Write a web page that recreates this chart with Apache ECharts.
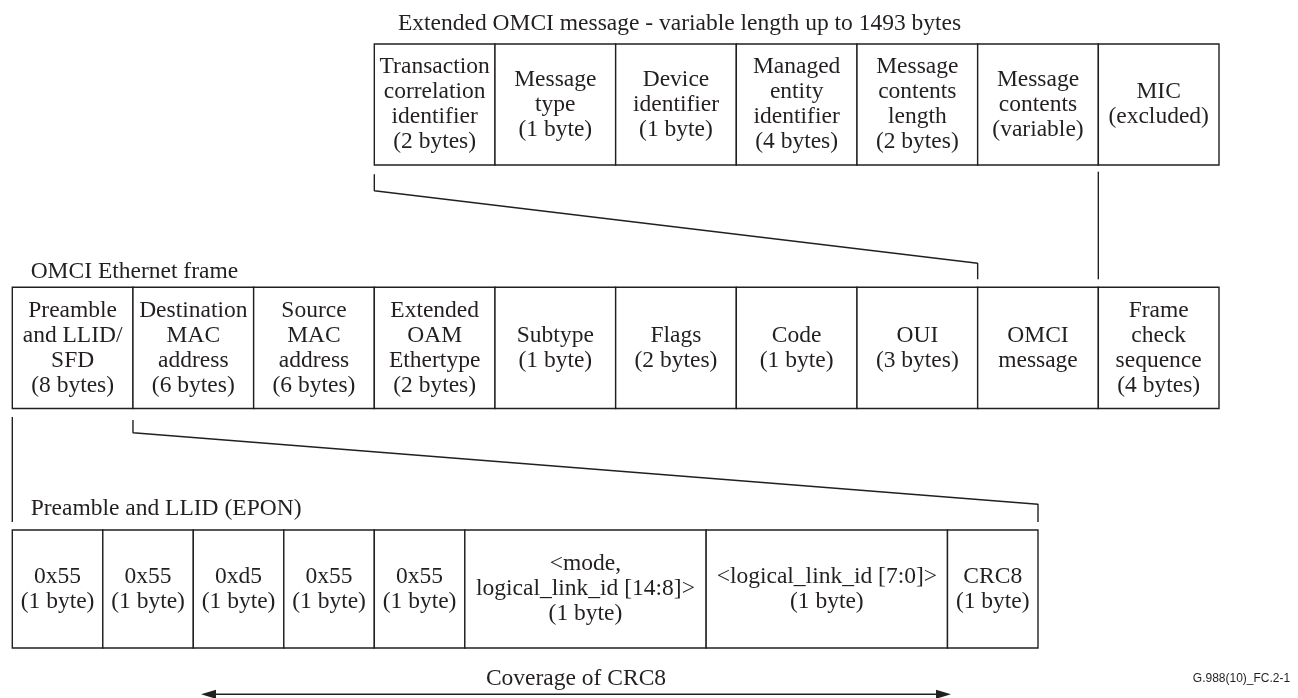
<!DOCTYPE html>
<html>
<head>
<meta charset="utf-8">
<title>Extended OMCI message in an OMCI Ethernet frame</title>
<script src="https://cdn.jsdelivr.net/npm/echarts@6/dist/echarts.min.js"></script>
<style>
  html, body { margin: 0; padding: 0; background: #fff; }
  #chart { width: 1298px; height: 698px; }
</style>
</head>
<body>
<div id="chart"></div>
<script>
// field labels, one array per row of the figure
var omciFields = [
  'Transaction\ncorrelation\nidentifier\n(2 bytes)',
  'Message\ntype\n(1 byte)',
  'Device\nidentifier\n(1 byte)',
  'Managed\nentity\nidentifier\n(4 bytes)',
  'Message\ncontents\nlength\n(2 bytes)',
  'Message\ncontents\n(variable)',
  'MIC\n(excluded)'
];
var frameFields = [
  'Preamble\nand LLID/\nSFD\n(8 bytes)',
  'Destination\nMAC\naddress\n(6 bytes)',
  'Source\nMAC\naddress\n(6 bytes)',
  'Extended\nOAM\nEthertype\n(2 bytes)',
  'Subtype\n(1 byte)',
  'Flags\n(2 bytes)',
  'Code\n(1 byte)',
  'OUI\n(3 bytes)',
  'OMCI\nmessage',
  'Frame\ncheck\nsequence\n(4 bytes)'
];
var eponFields = [
  '0x55\n(1 byte)',
  '0x55\n(1 byte)',
  '0xd5\n(1 byte)',
  '0x55\n(1 byte)',
  '0x55\n(1 byte)',
  '<mode,\nlogical_link_id [14:8]>\n(1 byte)',
  '<logical_link_id [7:0]>\n(1 byte)',
  'CRC8\n(1 byte)'
];
var rowTitles = [
  'Extended OMCI message - variable length up to 1493 bytes',
  'OMCI Ethernet frame',
  'Preamble and LLID (EPON)'
];
var coverageText = 'Coverage of CRC8';
var figureId = 'G.988(10)_FC.2-1';

// layout: x in frame-field units (one Ethernet frame field = 1), y in pixels
var ink = '#231f20';
var serif = '"Liberation Serif", "Times New Roman", serif';
var rows = [
  { labels: omciFields, spans: [1, 1, 1, 1, 1, 1, 1], start: 3, top: 44, bottom: 165 },
  { labels: frameFields, spans: [1, 1, 1, 1, 1, 1, 1, 1, 1, 1], start: 0, top: 287.3, bottom: 408.5 },
  { labels: eponFields, spans: [0.75, 0.75, 0.75, 0.75, 0.75, 2, 2, 0.75], start: 0, top: 530, bottom: 648 }
];

var cells = [];
var cellLabels = [];
rows.forEach(function (row) {
  var x = row.start;
  row.labels.forEach(function (label, i) {
    cells.push([x, x + row.spans[i], row.top, row.bottom]);
    cellLabels.push(label);
    x += row.spans[i];
  });
});

var connectors = [
  [[3, 174.3], [3, 190.7], [8, 263.3], [8, 279.3]],
  [[9, 171.7], [9, 279.3]],
  [[0, 417], [0, 522]],
  [[1, 420], [1, 432.7], [8.5, 504.3], [8.5, 522]]
];

function renderCell(params, api) {
  var p0 = api.coord([api.value(0), api.value(2)]);
  var p1 = api.coord([api.value(1), api.value(3)]);
  return {
    type: 'group',
    children: [
      {
        type: 'rect',
        shape: { x: p0[0], y: p0[1], width: p1[0] - p0[0], height: p1[1] - p0[1] },
        style: { fill: '#fff', stroke: ink, lineWidth: 1.4 }
      },
      {
        type: 'text',
        style: {
          text: cellLabels[params.dataIndex],
          x: (p0[0] + p1[0]) / 2,
          y: (p0[1] + p1[1]) / 2,
          align: 'center',
          verticalAlign: 'middle',
          font: '23.5px ' + serif,
          lineHeight: 25,
          fill: ink
        }
      }
    ]
  };
}

function renderNotes(params, api) {
  var t0 = api.coord([3.196, 24]);
  var t1 = api.coord([0.152, 272]);
  var t2 = api.coord([0.152, 509]);
  var a0 = api.coord([1.564, 694.3]);
  var a1 = api.coord([7.779, 694.3]);
  var fid = api.coord([10.59, 679]);
  var headLen = 15, headHalf = 4.5;
  function txt(s, p, align, font) {
    return { type: 'text', style: { text: s, x: p[0], y: p[1], align: align, verticalAlign: 'middle', font: font, fill: ink } };
  }
  return {
    type: 'group',
    children: [
      txt(rowTitles[0], t0, 'left', '23.5px ' + serif),
      txt(rowTitles[1], t1, 'left', '23.5px ' + serif),
      txt(rowTitles[2], t2, 'left', '23.5px ' + serif),
      txt(coverageText, [(a0[0] + a1[0]) / 2, a0[1] - 15.5], 'center', '23.5px ' + serif),
      txt(figureId, fid, 'right', '12px "Liberation Sans", Arial, sans-serif'),
      {
        type: 'line',
        shape: { x1: a0[0] + headLen - 2, y1: a0[1], x2: a1[0] - headLen + 2, y2: a1[1] },
        style: { stroke: ink, lineWidth: 1.4 }
      },
      {
        type: 'polygon',
        shape: { points: [[a0[0], a0[1]], [a0[0] + headLen, a0[1] - headHalf], [a0[0] + headLen, a0[1] + headHalf]] },
        style: { fill: ink }
      },
      {
        type: 'polygon',
        shape: { points: [[a1[0], a1[1]], [a1[0] - headLen, a1[1] - headHalf], [a1[0] - headLen, a1[1] + headHalf]] },
        style: { fill: ink }
      }
    ]
  };
}

var chart = echarts.init(document.getElementById('chart'));

var series = [
  {
    type: 'custom',
    name: 'fields',
    renderItem: renderCell,
    encode: { x: [0, 1], y: [2, 3] },
    data: cells,
    clip: false,
    silent: true
  },
  {
    type: 'custom',
    name: 'notes',
    renderItem: renderNotes,
    data: [[0, 0]],
    clip: false,
    silent: true
  }
];
connectors.forEach(function (pts) {
  series.push({
    type: 'line',
    data: pts,
    symbol: 'none',
    lineStyle: { color: ink, width: 1.4 },
    silent: true
  });
});

chart.setOption({
  animation: false,
  backgroundColor: '#fff',
  grid: { left: 12.3, right: 79, top: 0, bottom: 0 },
  xAxis: { type: 'value', min: 0, max: 10, show: false },
  yAxis: { type: 'value', min: 0, max: 698, inverse: true, show: false },
  tooltip: { show: false },
  series: series
});
</script>
</body>
</html>
